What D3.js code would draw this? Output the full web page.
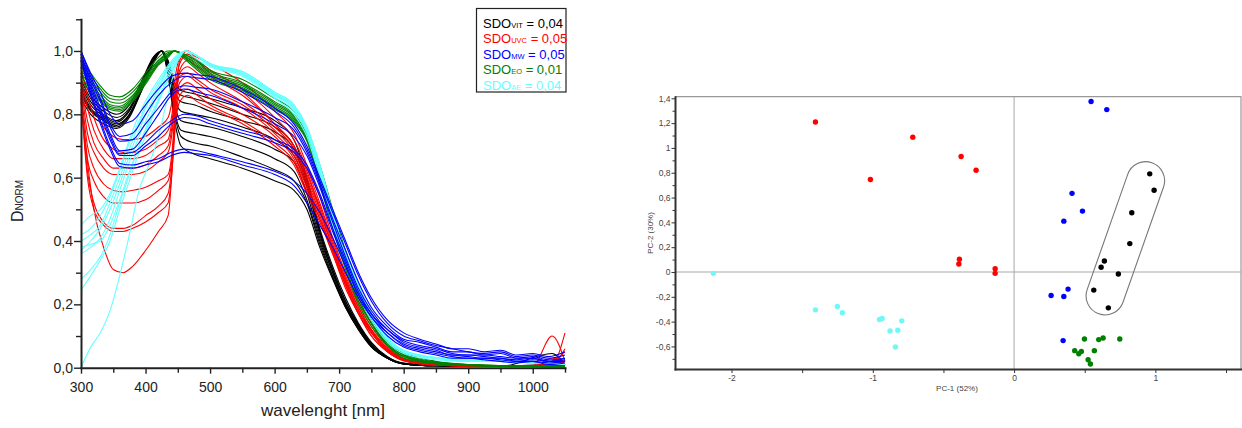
<!DOCTYPE html>
<html>
<head>
<meta charset="utf-8">
<script src="https://cdn.jsdelivr.net/npm/d3@7"></script>
<style>
  body { margin: 0; background: #fff; }
  svg { display: block; font-family: "Liberation Sans", Arial, sans-serif; }
</style>
</head>
<body>
<svg width="1242" height="428"></svg>
<script>
// ---- spectra (left panel) ----
const wlVit = [300,315,335,355,375,395,412,425,435,445,455,475,500,550,600,630,650,670,690,710,730,750,775,800,850,950,1030,1050];
const vit = [
  [.93,.86,.82,.80,.83,.91,.98,1.0,.97,.90,.875,.865,.85,.82,.78,.72,.60,.44,.32,.22,.14,.08,.035,.015,.008,.005,.01,.01],
  [.91,.85,.81,.79,.82,.90,.98,1.0,.965,.885,.86,.85,.835,.80,.76,.70,.59,.43,.31,.21,.135,.075,.033,.014,.007,.005,.008,.01],
  [.90,.84,.80,.78,.815,.90,.975,1.0,.96,.87,.84,.83,.81,.78,.745,.69,.58,.43,.31,.21,.135,.075,.032,.013,.006,.004,.045,.01],
  [.89,.83,.795,.775,.81,.895,.97,1.0,.95,.85,.81,.80,.79,.76,.72,.67,.57,.42,.30,.20,.13,.07,.03,.012,.006,.004,.006,.008],
  [.88,.82,.79,.77,.80,.89,.97,1.0,.945,.83,.78,.77,.76,.73,.69,.65,.55,.41,.30,.20,.13,.07,.03,.012,.006,.004,.006,.006],
  [.87,.815,.785,.765,.80,.885,.965,1.0,.94,.81,.75,.74,.73,.70,.66,.62,.53,.40,.29,.195,.125,.068,.03,.012,.006,.004,.005,.006],
  [.86,.81,.78,.76,.795,.88,.965,1.0,.93,.80,.73,.71,.70,.665,.625,.59,.52,.39,.285,.19,.12,.066,.03,.012,.006,.004,.005,.005],
  [.85,.80,.77,.755,.79,.88,.96,1.0,.92,.78,.70,.675,.66,.63,.59,.56,.50,.38,.28,.19,.12,.065,.03,.012,.006,.004,.005,.005]
];

const wlUvc = [300,310,320,335,350,365,380,400,420,435,441,447,453,465,480,500,550,600,630,650,670,690,710,730,750,775,800,850,950,1000,1030,1050];
const uvc = [
  [.97,.90,.83,.76,.73,.72,.72,.73,.76,.79,.84,.93,.98,1.0,.98,.96,.90,.81,.74,.64,.54,.41,.30,.21,.14,.07,.035,.012,.006,.006,.01,.02],
  [.95,.86,.79,.72,.69,.68,.68,.69,.72,.75,.80,.90,.96,.99,.97,.94,.88,.79,.72,.63,.52,.40,.29,.20,.13,.065,.03,.01,.005,.005,.03,.02],
  [.92,.82,.75,.69,.66,.66,.66,.67,.70,.72,.78,.88,.94,.97,.95,.92,.86,.77,.70,.61,.51,.39,.28,.19,.12,.06,.028,.01,.005,.005,.01,.11],
  [.90,.78,.71,.66,.63,.63,.63,.64,.67,.70,.76,.87,.93,.95,.93,.90,.84,.76,.69,.60,.50,.38,.28,.19,.12,.06,.027,.01,.005,.005,.01,.02],
  [.90,.74,.68,.63,.61,.61,.61,.62,.65,.68,.74,.86,.92,.93,.91,.88,.83,.75,.68,.59,.49,.38,.27,.18,.115,.055,.025,.009,.004,.005,.10,.02],
  [.88,.70,.63,.58,.56,.555,.56,.57,.59,.61,.68,.84,.90,.92,.90,.87,.82,.74,.67,.58,.48,.37,.27,.18,.11,.055,.025,.009,.004,.005,.01,.06],
  [.87,.66,.59,.54,.52,.52,.52,.53,.56,.59,.66,.82,.88,.90,.88,.85,.80,.73,.66,.57,.47,.37,.26,.17,.11,.05,.024,.008,.004,.004,.01,.01],
  [.86,.62,.52,.46,.44,.44,.45,.48,.51,.55,.64,.80,.86,.88,.86,.83,.78,.71,.65,.56,.47,.36,.26,.17,.10,.05,.022,.008,.004,.004,.01,.01],
  [.85,.60,.50,.45,.43,.43,.44,.46,.49,.52,.62,.78,.84,.86,.84,.82,.77,.70,.64,.55,.46,.36,.25,.17,.10,.05,.022,.008,.004,.004,.01,.01],
  [.84,.65,.50,.38,.31,.30,.32,.37,.43,.48,.62,.85,.97,1.0,.97,.93,.87,.77,.70,.62,.50,.38,.27,.18,.12,.06,.026,.01,.005,.005,.02,.05]
];

const wlMw = [300,315,330,345,360,380,400,420,440,460,480,500,550,600,630,650,670,690,710,730,750,775,800,825,850,875,900,925,950,975,1000,1025,1050];
const mw = [
  [1.0,.93,.87,.80,.77,.78,.83,.88,.92,.93,.925,.92,.88,.82,.77,.70,.60,.50,.40,.30,.22,.15,.11,.09,.075,.06,.06,.05,.055,.04,.045,.035,.05],
  [1.0,.92,.85,.77,.73,.74,.80,.86,.90,.92,.915,.91,.87,.81,.76,.69,.59,.49,.39,.29,.21,.14,.10,.085,.07,.06,.05,.045,.05,.035,.04,.03,.04],
  [.99,.91,.84,.76,.715,.72,.77,.82,.87,.89,.885,.88,.84,.79,.75,.68,.58,.47,.37,.27,.19,.13,.09,.08,.065,.05,.05,.04,.045,.03,.035,.025,.03],
  [.99,.90,.82,.74,.685,.69,.74,.80,.86,.88,.87,.86,.82,.77,.73,.67,.57,.46,.35,.25,.18,.12,.085,.07,.06,.045,.04,.04,.035,.03,.03,.02,.03],
  [.98,.89,.81,.73,.675,.68,.71,.75,.78,.80,.795,.78,.75,.72,.69,.64,.55,.44,.34,.24,.17,.12,.08,.065,.055,.04,.04,.035,.03,.025,.03,.02,.025],
  [.98,.88,.80,.72,.67,.67,.70,.73,.77,.79,.785,.77,.74,.71,.68,.63,.54,.43,.33,.23,.17,.11,.075,.06,.05,.04,.035,.03,.03,.02,.025,.02,.02],
  [.97,.87,.78,.70,.645,.64,.65,.66,.68,.69,.685,.675,.65,.62,.59,.55,.49,.41,.32,.23,.16,.11,.07,.055,.045,.035,.03,.03,.025,.02,.02,.015,.02],
  [.97,.86,.77,.69,.635,.63,.64,.65,.67,.68,.675,.67,.64,.61,.575,.52,.45,.38,.30,.22,.16,.10,.065,.05,.04,.03,.03,.025,.02,.015,.02,.01,.015]
];

const wlEo = [300,315,330,345,360,380,400,420,435,445,460,480,500,550,600,630,650,670,690,710,730,750,775,800,850,900,1000,1050];
const eo = [
  [.97,.93,.89,.86,.855,.88,.93,.98,1.0,1.0,.99,.97,.94,.91,.85,.81,.75,.64,.50,.37,.26,.17,.09,.05,.02,.01,.005,.005],
  [.96,.92,.88,.85,.845,.87,.92,.97,.995,1.0,.99,.965,.935,.90,.84,.80,.74,.63,.49,.36,.25,.16,.085,.045,.018,.01,.005,.005],
  [.95,.91,.87,.84,.835,.86,.915,.97,.99,1.0,.985,.96,.93,.895,.835,.795,.735,.62,.48,.35,.24,.15,.08,.04,.016,.01,.005,.004],
  [.94,.90,.86,.83,.825,.855,.91,.965,.99,1.0,.985,.955,.925,.89,.83,.79,.73,.61,.47,.34,.23,.15,.08,.04,.015,.008,.004,.004],
  [.93,.89,.85,.825,.82,.85,.905,.96,.985,1.0,.98,.95,.92,.885,.825,.785,.725,.60,.46,.33,.22,.14,.075,.035,.014,.008,.004,.003],
  [.92,.88,.845,.82,.815,.845,.90,.96,.985,1.0,.98,.945,.915,.88,.82,.78,.72,.59,.45,.32,.21,.14,.07,.035,.013,.007,.004,.003],
  [.91,.87,.84,.815,.81,.84,.895,.955,.98,1.0,.975,.94,.91,.875,.815,.775,.715,.58,.44,.31,.20,.13,.07,.03,.012,.006,.003,.003]
];

const wlAe = [300,315,330,345,360,375,390,405,420,435,450,462,475,500,550,600,630,650,670,690,710,730,750,775,800,850,900,950,1000,1050];
const ae = [
  [0,.065,.11,.18,.29,.42,.56,.64,.73,.86,.97,1.0,.98,.95,.92,.85,.80,.73,.60,.45,.33,.23,.15,.08,.045,.025,.02,.02,.015,.01],
  [.245,.29,.34,.40,.50,.59,.68,.76,.84,.91,.97,1.0,.99,.955,.925,.855,.81,.74,.61,.46,.34,.24,.16,.085,.05,.03,.02,.02,.015,.012],
  [.28,.31,.35,.42,.52,.61,.70,.78,.85,.92,.975,1.0,.99,.955,.925,.86,.815,.745,.62,.47,.35,.25,.16,.09,.05,.03,.022,.02,.015,.012],
  [.36,.38,.41,.47,.56,.65,.73,.80,.87,.93,.98,1.0,.99,.955,.93,.86,.82,.75,.62,.47,.35,.25,.16,.09,.05,.03,.022,.02,.018,.012],
  [.37,.40,.44,.50,.58,.67,.75,.82,.88,.94,.98,1.0,.99,.96,.93,.865,.82,.75,.63,.48,.35,.25,.16,.09,.05,.03,.02,.02,.015,.01],
  [.40,.42,.45,.52,.60,.69,.77,.84,.89,.945,.985,1.0,.99,.96,.93,.865,.825,.755,.63,.48,.36,.26,.17,.09,.05,.03,.025,.02,.018,.012],
  [.42,.44,.48,.54,.62,.71,.78,.85,.90,.95,.985,1.0,.99,.96,.935,.87,.83,.76,.64,.49,.36,.26,.17,.095,.055,.032,.025,.022,.018,.012],
  [.45,.48,.50,.55,.63,.72,.80,.86,.91,.955,.99,1.0,.99,.96,.935,.87,.83,.76,.64,.49,.36,.26,.17,.095,.055,.032,.025,.022,.018,.012],
  [.38,.39,.40,.45,.53,.62,.70,.77,.84,.91,.97,1.0,.99,.955,.93,.86,.82,.75,.62,.47,.35,.25,.16,.09,.05,.03,.022,.02,.015,.012]
];

const legendSub = ["VIT", "UVC", "MW", "EO", "AE"];
const legendVal = ["0,04", "0,05", "0,05", "0,01", "0,04"];
const groupColors = ["#000000", "#ff0000", "#0000ff", "#008000", "#66ffff"];

// ---- PCA scores (right panel) ----
const pcaRedX = [-1.406,-1.017,-0.717,-0.375,-0.269,-0.387,-0.391,-0.134,-0.134];
const pcaRedY = [1.209,0.745,1.087,0.931,0.820,0.103,0.065,0.027,-0.011];
const pcaCyanX = [-2.128,-1.406,-1.251,-1.215,-0.953,-0.934,-0.795,-0.878,-0.823,-0.840];
const pcaCyanY = [-0.011,-0.305,-0.278,-0.329,-0.383,-0.375,-0.394,-0.475,-0.470,-0.605];
const pcaBlueX = [0.545,0.656,0.410,0.484,0.352,0.382,0.262,0.352,0.347];
const pcaBlueY = [1.374,1.309,0.634,0.491,0.410,-0.138,-0.189,-0.197,-0.553];
const pcaBlackX = [0.960,0.991,0.833,0.819,0.639,0.616,0.738,0.564,0.667];
const pcaBlackY = [0.791,0.659,0.478,0.229,0.089,0.038,-0.016,-0.146,-0.289];
const pcaGreenX = [0.498,0.599,0.630,0.748,0.429,0.458,0.476,0.568,0.524,0.540];
const pcaGreenY = [-0.540,-0.545,-0.532,-0.540,-0.634,-0.659,-0.640,-0.634,-0.707,-0.742];
// outline around the black cluster: two centre points of a capsule (data units)
const clusterEnds = [[0.931, 0.736], [0.644, -0.193]];

const svg = d3.select("svg");

// ================= left: spectra =================
const sx = d3.scaleLinear().domain([300, 1050]).range([81, 565]);
const sy = d3.scaleLinear().domain([0, 1.1]).range([367.7, 19.3]);

const line = d3.line()
  .x(d => sx(d[0]))
  .y(d => sy(d[1]))
  .curve(d3.curveMonotoneX);

const groups = [
  { wl: wlVit, curves: vit, color: groupColors[0] },
  { wl: wlUvc, curves: uvc, color: groupColors[1] },
  { wl: wlEo, curves: eo, color: groupColors[3] },
  { wl: wlAe, curves: ae, color: groupColors[4] },
  { wl: wlMw, curves: mw, color: groupColors[2] }
];

const lines = svg.append("g");
groups.forEach(g => {
  lines.append("g").selectAll("path")
    .data(g.curves)
    .join("path")
    .attr("d", c => line(c.map((v, i) => [g.wl[i], v])))
    .attr("fill", "none")
    .attr("stroke", g.color)
    .attr("stroke-width", 1.1);
});

function styleAxis(g, size, color) {
  g.attr("font-family", null).attr("font-size", null);
  g.selectAll("text").attr("font-size", size).attr("fill", color);
}

const fmt1 = d => d.toFixed(1).replace(".", ",");

// minor ticks first, then majors with labels
svg.append("g").attr("transform", "translate(81,0)")
  .call(d3.axisLeft(sy).tickValues([0.1, 0.3, 0.5, 0.7, 0.9, 1.1]).tickSize(5).tickFormat(""))
  .call(g => g.select(".domain").remove())
  .call(g => g.selectAll("line").attr("stroke", "#222").attr("stroke-width", 1.4));
svg.append("g").attr("transform", "translate(81,0)")
  .call(d3.axisLeft(sy).tickValues([0, 0.2, 0.4, 0.6, 0.8, 1.0]).tickSize(7).tickSizeOuter(0).tickPadding(1).tickFormat(fmt1))
  .call(g => styleAxis(g, 14, "#222"))
  .call(g => g.select(".domain").attr("stroke", "#222").attr("stroke-width", 2).attr("stroke-linecap", "square"))
  .call(g => g.selectAll("line").attr("stroke", "#222").attr("stroke-width", 1.4));

svg.append("g").attr("transform", "translate(0,367.7)")
  .call(d3.axisBottom(sx).tickValues([350, 450, 550, 650, 750, 850, 950, 1050]).tickSize(5).tickFormat(""))
  .call(g => g.select(".domain").remove())
  .call(g => g.selectAll("line").attr("stroke", "#222").attr("stroke-width", 1.4));
svg.append("g").attr("transform", "translate(0,367.7)")
  .call(d3.axisBottom(sx).tickValues([300, 400, 500, 600, 700, 800, 900, 1000]).tickSize(6).tickSizeOuter(0).tickPadding(8).tickFormat(d => String(d)))
  .call(g => styleAxis(g, 14, "#222"))
  .call(g => g.select(".domain").attr("stroke", "#222").attr("stroke-width", 2).attr("stroke-linecap", "square"))
  .call(g => g.selectAll("line").attr("stroke", "#222").attr("stroke-width", 1.4));

// axis titles
const yt = svg.append("text")
  .attr("transform", "translate(23,201) rotate(-90)")
  .attr("text-anchor", "middle")
  .attr("fill", "#222")
  .attr("font-size", 16);
yt.append("tspan").text("D");
yt.append("tspan").attr("font-size", 10).text("NORM");

svg.append("text")
  .attr("x", 323).attr("y", 416)
  .attr("text-anchor", "middle")
  .attr("font-size", 17)
  .attr("fill", "#222")
  .text("wavelenght [nm]");

// legend
svg.append("rect")
  .attr("x", 476.5).attr("y", 8.5)
  .attr("width", 89.5).attr("height", 83.5)
  .attr("fill", "#fff").attr("stroke", "#222").attr("stroke-width", 1.2);

legendSub.forEach((s, i) => {
  const t = svg.append("text")
    .attr("x", 483).attr("y", 27.5 + i * 15.5)
    .attr("font-size", 13)
    .attr("fill", groupColors[i]);
  t.append("tspan").text("SDO");
  t.append("tspan").attr("font-size", 7.5).text(s);
  t.append("tspan").text(" = " + legendVal[i]);
});

// ================= right: PCA scores =================
const px = d3.scaleLinear().domain([-2.4, 1.606]).range([675, 1241]);
const py = d3.scaleLinear().domain([-0.782, 1.413]).range([369, 96.7]);

const fmtP = d => String(Math.round(d * 10) / 10).replace(".", ",");

// frame (light top / right) and zero lines
const [x0, x1] = px.range();
const [y0, y1] = py.range();
svg.append("path")
  .attr("d", `M${x0},${y1}H${x1}V${y0}`)
  .attr("fill", "none").attr("stroke", "#999").attr("stroke-width", 1.2);
svg.append("line")
  .attr("x1", x0).attr("x2", x1).attr("y1", py(0)).attr("y2", py(0))
  .attr("stroke", "#a8a8a8").attr("stroke-width", 1.2);
svg.append("line")
  .attr("x1", px(0)).attr("x2", px(0)).attr("y1", y1).attr("y2", y0)
  .attr("stroke", "#a8a8a8").attr("stroke-width", 1);

svg.append("g").attr("transform", `translate(${x0},0)`)
  .call(d3.axisLeft(py).tickValues([-0.7, -0.5, -0.3, -0.1, 0.1, 0.3, 0.5, 0.7, 0.9, 1.1, 1.3]).tickSize(2.5).tickFormat(""))
  .call(g => g.select(".domain").remove())
  .call(g => g.selectAll("line").attr("stroke", "#333"));
svg.append("g").attr("transform", `translate(${x0},0)`)
  .call(d3.axisLeft(py).tickValues([-0.6, -0.4, -0.2, 0, 0.2, 0.4, 0.6, 0.8, 1, 1.2, 1.4]).tickSize(3.5).tickSizeOuter(0).tickPadding(1).tickFormat(fmtP))
  .call(g => styleAxis(g, 8.5, "#444"))
  .call(g => g.select(".domain").attr("stroke", "#333").attr("stroke-width", 2).attr("stroke-linecap", "square"))
  .call(g => g.selectAll("line").attr("stroke", "#333"));

svg.append("g").attr("transform", `translate(0,${y0})`)
  .call(d3.axisBottom(px).tickValues([-1.5, -0.5, 0.5, 1.5]).tickSize(4).tickFormat(""))
  .call(g => g.select(".domain").remove())
  .call(g => g.selectAll("line").attr("stroke", "#333"));
svg.append("g").attr("transform", `translate(0,${y0})`)
  .call(d3.axisBottom(px).tickValues([-2, -1, 0, 1]).tickSize(4).tickSizeOuter(0).tickPadding(1.5).tickFormat(fmtP))
  .call(g => styleAxis(g, 8.5, "#444"))
  .call(g => g.select(".domain").attr("stroke", "#333").attr("stroke-width", 2).attr("stroke-linecap", "square"))
  .call(g => g.selectAll("line").attr("stroke", "#333"));

svg.append("text")
  .attr("x", 957).attr("y", 391)
  .attr("text-anchor", "middle").attr("font-size", 8).attr("fill", "#444")
  .text("PC-1 (52%)");
svg.append("text")
  .attr("transform", "translate(653,233) rotate(-90)")
  .attr("text-anchor", "middle").attr("font-size", 8).attr("fill", "#444")
  .text("PC-2 (30%)");

// capsule outline round the black cluster
const c1 = [px(clusterEnds[0][0]), py(clusterEnds[0][1])];
const c2 = [px(clusterEnds[1][0]), py(clusterEnds[1][1])];
const r = 19;
const dx = c2[0] - c1[0], dy = c2[1] - c1[1];
const len = Math.hypot(dx, dy);
const nx = dy / len, ny = -dx / len;
const capsule = `M${c1[0] + r * nx},${c1[1] + r * ny}L${c2[0] + r * nx},${c2[1] + r * ny}` +
  `A${r},${r} 0 0 1 ${c2[0] - r * nx},${c2[1] - r * ny}` +
  `L${c1[0] - r * nx},${c1[1] - r * ny}` +
  `A${r},${r} 0 0 1 ${c1[0] + r * nx},${c1[1] + r * ny}Z`;
svg.append("path")
  .attr("d", capsule)
  .attr("fill", "none").attr("stroke", "#777").attr("stroke-width", 1.1);

const pcaSets = [
  { xs: pcaRedX, ys: pcaRedY, color: groupColors[1] },
  { xs: pcaCyanX, ys: pcaCyanY, color: "#6ff8f8" },
  { xs: pcaBlueX, ys: pcaBlueY, color: groupColors[2] },
  { xs: pcaBlackX, ys: pcaBlackY, color: groupColors[0] },
  { xs: pcaGreenX, ys: pcaGreenY, color: groupColors[3] }
];
pcaSets.forEach(s => {
  svg.append("g").selectAll("circle")
    .data(s.xs.map((x, i) => [x, s.ys[i]]))
    .join("circle")
    .attr("cx", d => px(d[0]))
    .attr("cy", d => py(d[1]))
    .attr("r", 2.7)
    .attr("fill", s.color);
});
</script>
</body>
</html>
